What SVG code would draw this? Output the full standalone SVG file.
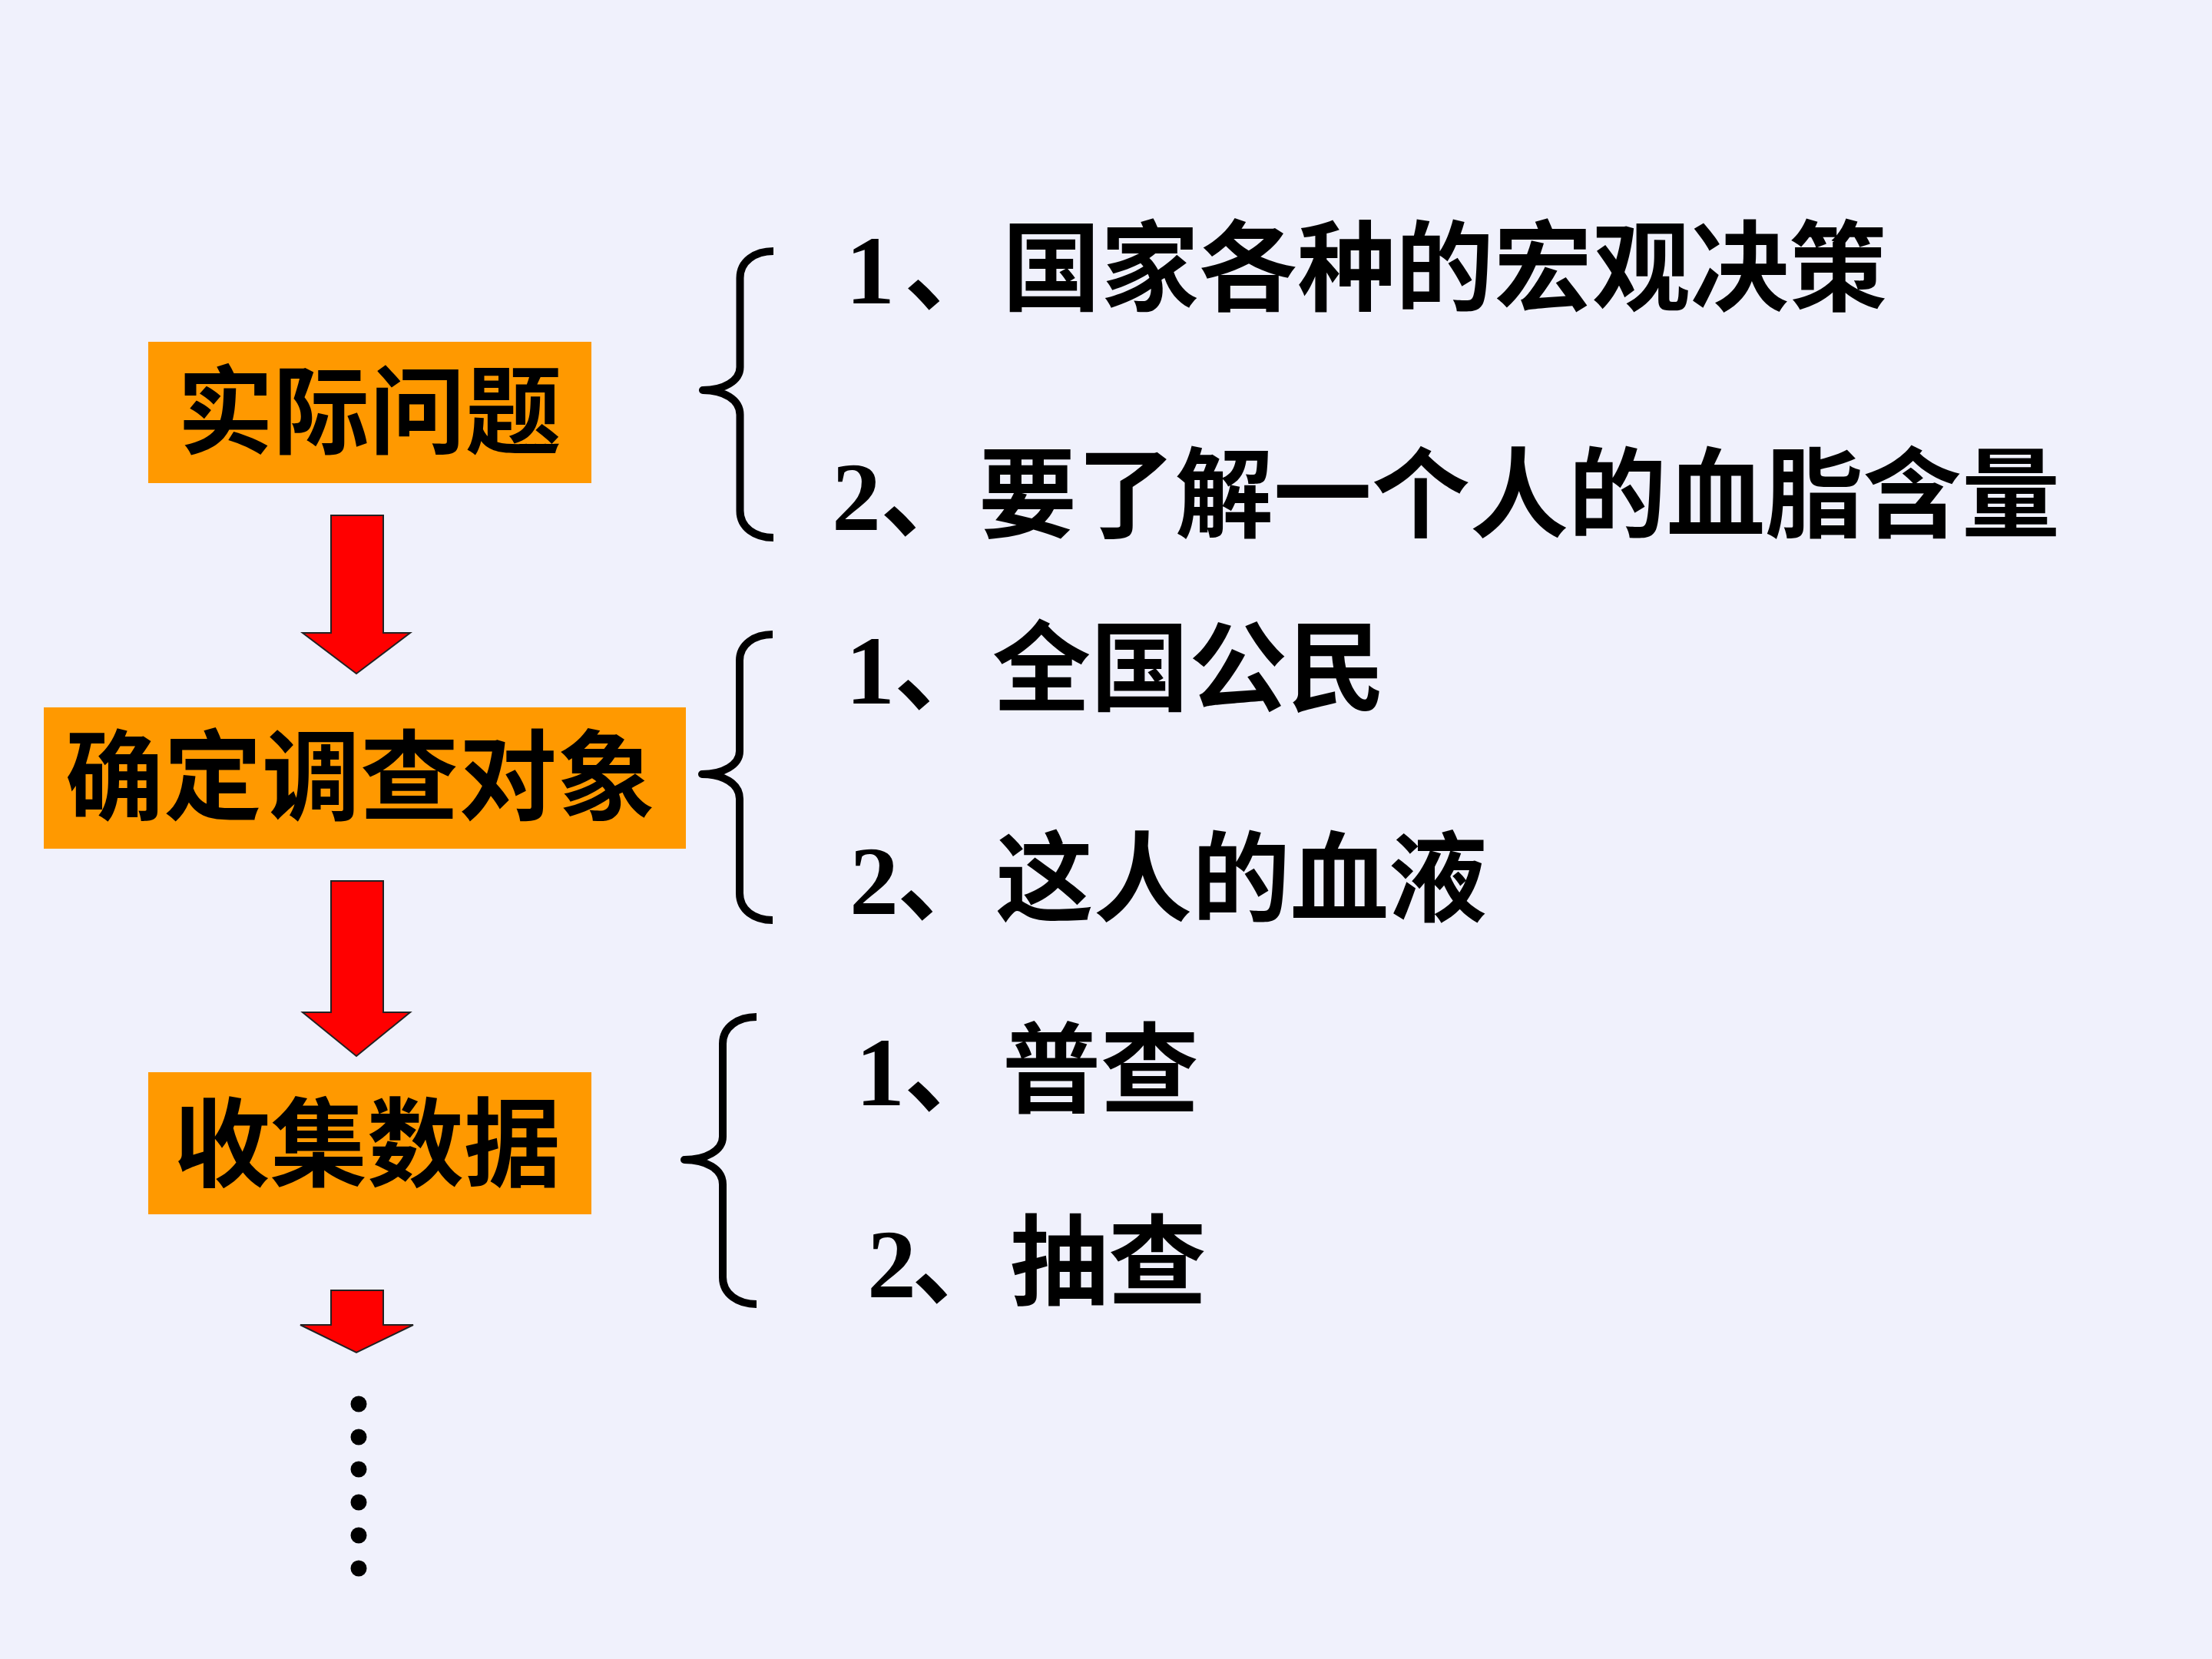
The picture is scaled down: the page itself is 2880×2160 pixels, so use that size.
<svg xmlns="http://www.w3.org/2000/svg" width="2880" height="2160" viewBox="0 0 2880 2160">
<style>
.box{fill:#FF9900}
.bt{font-family:"Noto Sans CJK SC",sans-serif;font-weight:700;fill:#000;text-anchor:middle}
.arr{fill:#FF0000;stroke:#222;stroke-width:2;stroke-linejoin:miter}
.br{fill:none;stroke:#000;stroke-width:10;stroke-linejoin:round}
.t{font-size:128px;fill:#000}
.num{font-family:"Liberation Serif",serif;font-weight:700}
.cjk{font-family:"Noto Sans CJK SC",sans-serif;font-weight:700}
.dot{fill:#000}
</style>
<rect width="2880" height="2160" fill="#F0F1FC"/>

<g id="node-shiji">
<rect class="box" x="193" y="445" width="577" height="184"/>
<text class="bt" x="481" y="581" font-size="125">实际问题</text>
</g>
<g id="node-queding">
<rect class="box" x="57" y="921" width="836" height="184"/>
<text class="bt" x="469" y="1058" font-size="128">确定调查对象</text>
</g>
<g id="node-shouji">
<rect class="box" x="193" y="1396" width="577" height="185"/>
<text class="bt" x="478" y="1535" font-size="126">收集数据</text>
</g>

<g id="connectors">
<polygon class="arr" points="431,671 499,671 499,824 534,824 464,877 394,824 431,824"/>
<polygon class="arr" points="431,1147 499,1147 499,1318 534,1318 464,1375 394,1318 431,1318"/>
<polygon class="arr" points="431,1680 499,1680 499,1725 538,1725 464,1761 391,1725 431,1725"/>
</g>

<g id="dots">
<circle class="dot" cx="467" cy="1828" r="10.5"/>
<circle class="dot" cx="467" cy="1871" r="10.5"/>
<circle class="dot" cx="467" cy="1913" r="10.5"/>
<circle class="dot" cx="467" cy="1956" r="10.5"/>
<circle class="dot" cx="467" cy="1999" r="10.5"/>
<circle class="dot" cx="467" cy="2042" r="10.5"/>
</g>

<g id="brace-1">
<path class="br" d="M1007,327 C983,327 963.5,340 963.5,362 L963.5,478 C963.5,496 942,508 915,508 C942,508 963.5,520 963.5,540 L963.5,665 C963.5,687 983,700 1007,700"/>
<text class="t" y="395"><tspan class="num" x="1101">1</tspan><tspan class="cjk" x="1177">、国家各种的宏观决策</tspan></text>
<text class="t" y="690"><tspan class="num" x="1083">2</tspan><tspan class="cjk" x="1146">、要了解一个人的血脂含量</tspan></text>
</g>

<g id="brace-2">
<path class="br" d="M1006,826 C982,826 963,839 963,860 L963,978 C963,996 941,1008 914,1008 C941,1008 963,1020 963,1040 L963,1163 C963,1185 982,1198 1006,1198"/>
<text class="t" y="916"><tspan class="num" x="1101">1</tspan><tspan class="cjk" x="1164">、全国公民</tspan></text>
<text class="t" y="1190"><tspan class="num" x="1106">2</tspan><tspan class="cjk" x="1168">、这人的血液</tspan></text>
</g>

<g id="brace-3">
<path class="br" d="M985,1324 C961,1324 941,1337 941,1359 L941,1480 C941,1498 919,1510 891,1510 C919,1510 941,1522 941,1542 L941,1663 C941,1685 961,1698 985,1698"/>
<text class="t" y="1439"><tspan class="num" x="1114">1</tspan><tspan class="cjk" x="1177">、普查</tspan></text>
<text class="t" y="1689"><tspan class="num" x="1129">2</tspan><tspan class="cjk" x="1187">、抽查</tspan></text>
</g>
</svg>
